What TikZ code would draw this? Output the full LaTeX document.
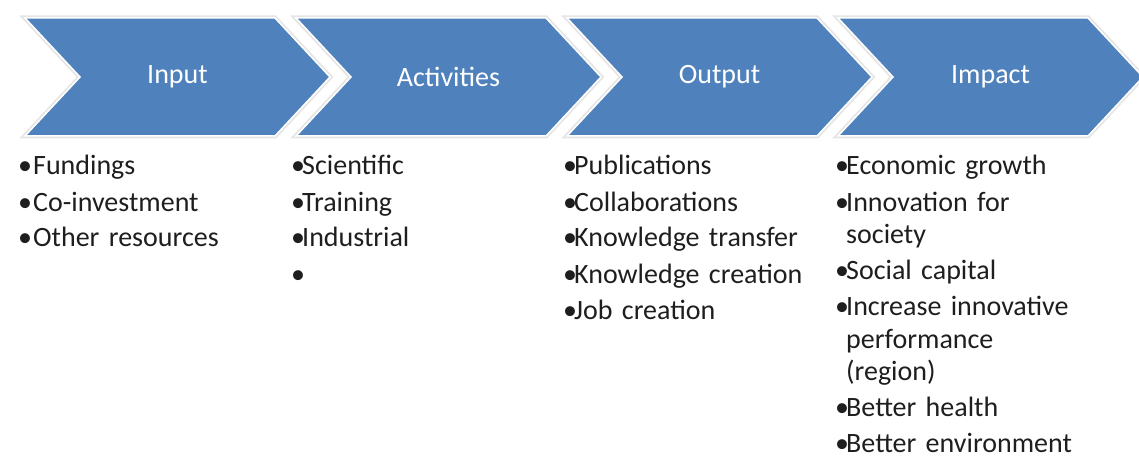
\documentclass[tikz,border=0pt]{standalone}
\usepackage{fontspec}
\setmainfont{Carlito}
\usepackage{xcolor}
\usepackage{tikz}

\definecolor{chevblue}{HTML}{4F81BD}
\definecolor{listgray}{HTML}{1E1E1E}
\newcommand{\bul}[1][11pt]{\makebox[#1][l]{\textbullet}}

\begin{document}
\begin{tikzpicture}[x=1pt, y=-1pt,
  chev/.style={fill=chevblue, draw=white, line width=1.5pt, line join=miter, preaction={draw=black!10, line width=5pt}},
  head/.style={text=white, font=\fontsize{28}{33}\selectfont},
  list/.style={anchor=base west, inner sep=0pt, text width=290pt, align=left, text=listgray, font=\fontsize{28}{32.5}\selectfont}]
  \useasboundingbox (0,0) rectangle (1139,457);
  % chevrons with their titles
  \foreach \i/\name/\lbl in {0/input/Input, 1/activities/Activities, 2/output/Output, 3/impact/Impact}{
    \draw[chev] (25+271*\i,18) -- ++(250,0) -- ++(55,59) -- ++(-55,59) -- ++(-250,0) -- ++(55,-59) -- cycle;
    \node[head] (\name) at (177.5+271*\i,77) {\lbl};
  }
  % bullet lists
  \node[list] (inputlist) at (18,175) {\bul[15pt]Fundings\\[3.5pt]
    \bul[15pt]Co-investment\\[3.5pt]
    \bul[15pt]Other resources};
  \node[list] (activitieslist) at (291,175) {\bul Scientific\\[3.5pt]
    \bul Training\\[3.5pt]
    \bul Industrial\\[3.5pt]
    \bul};
  \node[list] (outputlist) at (563,175) {\bul Publications\\[3.5pt]
    \bul Collaborations\\[3.5pt]
    \bul Knowledge transfer\\[3.5pt]
    \bul Knowledge creation\\[3.5pt]
    \bul Job creation};
  \node[list] (impactlist) at (835,175) {\bul Economic growth\\[3.5pt]
    \bul Innovation for\\ \hspace*{11pt}society\\[3.5pt]
    \bul Social capital\\[3.5pt]
    \bul Increase innovative\\ \hspace*{11pt}performance\\ \hspace*{11pt}(region)\\[3.5pt]
    \bul Better health\\[3.5pt]
    \bul Better environment};
\end{tikzpicture}
\end{document}
